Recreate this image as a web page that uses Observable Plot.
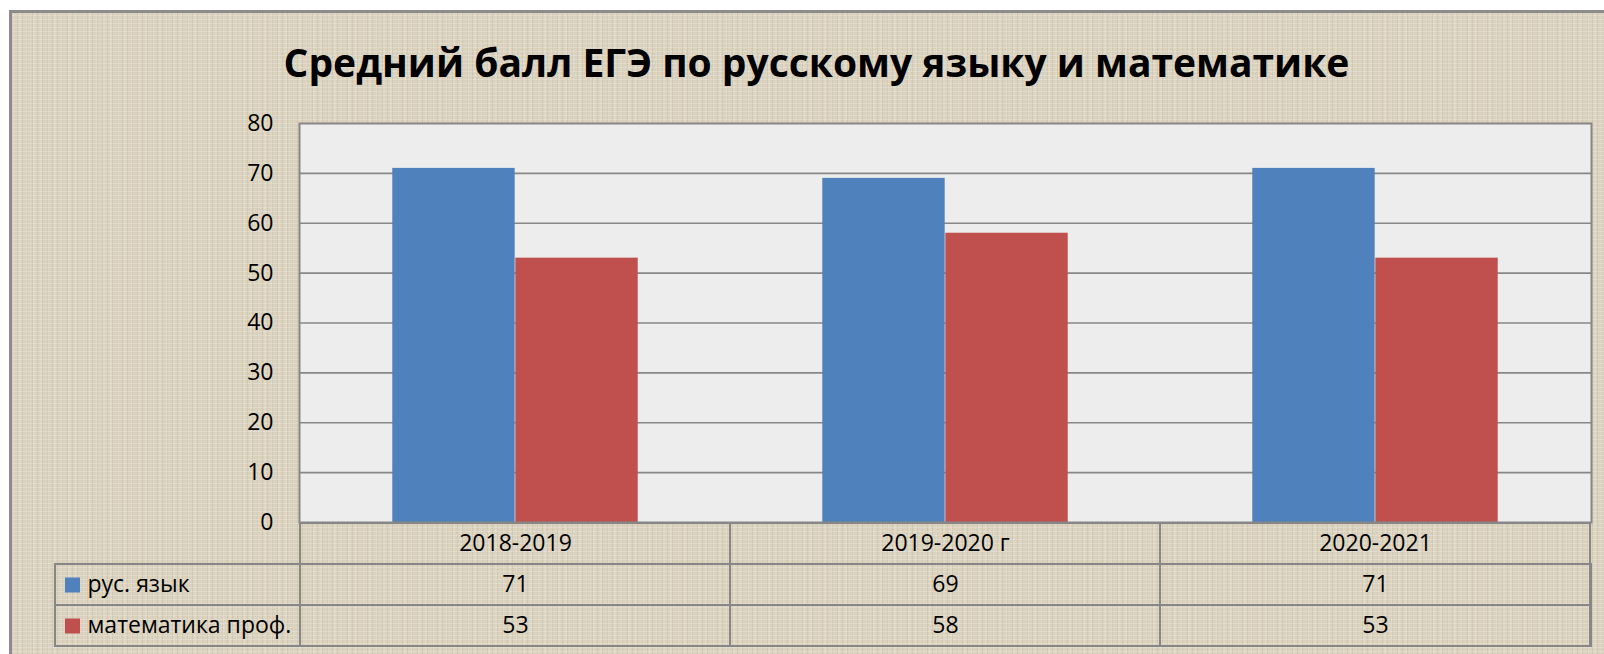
<!DOCTYPE html>
<html>
<head>
<meta charset="utf-8">
<script src="https://cdn.jsdelivr.net/npm/d3@7"></script>
<script src="https://cdn.jsdelivr.net/npm/@observablehq/plot@0.6"></script>
<style>
  html, body { margin: 0; padding: 0; background: #ffffff; }
  #wrap { position: relative; width: 1604px; height: 654px; overflow: hidden; background: #ffffff; }
  #bg {
    position: absolute; left: 9px; top: 10px; width: 1620px; height: 670px;
    box-sizing: border-box; border-left: 3px solid #8c8c8c; border-top: 3px solid #8c8c8c;
    background-color: #dbd2be;
    background-image:
      repeating-linear-gradient(0deg, rgba(255,255,255,0.20) 0 1px, transparent 1px 4px),
      repeating-linear-gradient(90deg, rgba(110,95,70,0.10) 0 1px, transparent 1px 5px),
      repeating-linear-gradient(90deg, rgba(255,255,255,0.12) 0 2px, transparent 2px 7px);
  }
  #title {
    position: absolute; left: 0; top: 41px; width: 1633px; text-align: center;
    font-family: "Open Sans", sans-serif; font-weight: bold; font-size: 39px; line-height: 42px;
    color: #000000; white-space: nowrap;
  }
  #chart { position: absolute; left: 0; top: 0; }
  #table { position: absolute; left: 0; top: 522px; }
</style>
</head>
<body>
<div id="wrap">
  <div id="bg"></div>
  <div id="chart"></div>
  <div id="table"></div>
  <div id="title">Средний балл ЕГЭ по русскому языку и математике</div>
</div>
<script>
// ---- data ----
const categories = ["2018-2019", "2019-2020 г", "2020-2021"];
const series = ["рус. язык", "математика проф."];
const russianValues = [71, 69, 71];
const mathValues = [53, 58, 53];
const yTicks = [0, 10, 20, 30, 40, 50, 60, 70, 80];
const seriesColors = ["#4F81BD", "#C0504D"];
const headerKey = "год";

const rows = categories.flatMap((c, i) => [
  {year: c, series: series[0], value: russianValues[i]},
  {year: c, series: series[1], value: mathValues[i]}
]);
const cells = [headerKey, ...series].flatMap(r => categories.map(c => ({year: c, row: r})));

// ---- layout ----
const W = 1604, ML = 299, MR = 13;
const bandW = (W - ML - MR) / categories.length;
const barW = bandW / 3.5; // Excel gap width 150%
const gridColor = "#878787";
const font = "Open Sans";

const chart = Plot.plot({
  width: W, height: 540,
  marginTop: 123, marginBottom: 18, marginLeft: ML, marginRight: MR,
  style: {background: "none", overflow: "visible", fontFamily: font, fontSize: "23px", color: "#000"},
  x: {type: "band", domain: categories, padding: 0, axis: null},
  y: {domain: [0, 80], ticks: yTicks, tickSize: 0, tickPadding: 26, label: null},
  color: {domain: series, range: seriesColors},
  marks: [
    Plot.frame({fill: "#ededed"}),
    Plot.ruleY(yTicks.filter(t => t > 0 && t < 80), {stroke: gridColor, strokeWidth: 1.6, strokeOpacity: 1}),
    Plot.barY(rows, {filter: d => d.series === series[0], x: "year", y: "value", fill: "series",
      insetLeft: bandW / 2 - barW, insetRight: bandW / 2}),
    Plot.barY(rows, {filter: d => d.series === series[1], x: "year", y: "value", fill: "series",
      insetLeft: bandW / 2, insetRight: bandW / 2 - barW}),
    Plot.frame({stroke: gridColor, strokeWidth: 2})
  ]
});
document.getElementById("chart").appendChild(chart);

const table = Plot.plot({
  width: W, height: 124,
  marginTop: 0, marginBottom: 0, marginLeft: 55, marginRight: MR,
  style: {background: "none", overflow: "visible", fontFamily: font, fontSize: "23px", color: "#000"},
  x: {type: "band", domain: categories, range: [ML, W - MR], padding: 0, axis: null},
  y: {type: "band", domain: [headerKey, ...series], padding: 0, axis: null},
  color: {domain: series, range: seriesColors},
  marks: [
    Plot.cell(series, {y: d => d, fill: "none", stroke: gridColor, strokeWidth: 2}),
    Plot.cell(cells, {x: "year", y: "row", fill: "none", stroke: gridColor, strokeWidth: 2}),
    Plot.text(categories, {x: d => d, y: () => headerKey, text: d => d, fontSize: 23, fill: "#000"}),
    Plot.text(rows, {x: "year", y: "series", text: d => String(d.value), fontSize: 23, fill: "#000"}),
    Plot.dot(series, {y: d => d, frameAnchor: "left", dx: 17, symbol: "square", r: 8.46, fill: d => d, stroke: "none"}),
    Plot.text(series, {y: d => d, frameAnchor: "left", dx: 32, textAnchor: "start", text: d => d, fontSize: 23, fill: "#000"})
  ]
});
document.getElementById("table").appendChild(table);
</script>
</body>
</html>
